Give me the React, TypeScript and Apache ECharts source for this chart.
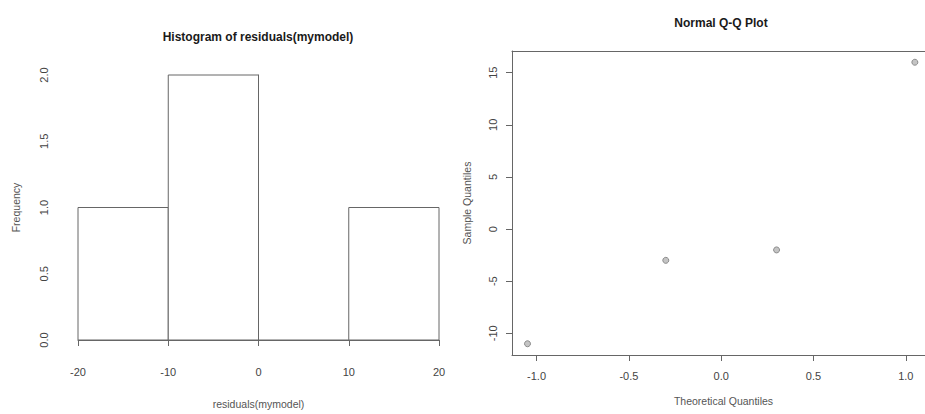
import React, { useEffect, useRef } from "react";
import * as echarts from "echarts";

// Histogram of residuals
const residualBreaks = [-20, -10, 0, 10, 20];
const histCounts = [1, 2, 0, 1];
const histXTicks = [-20, -10, 0, 10, 20];
const histYTicks = [0, 0.5, 1, 1.5, 2];

// Normal Q-Q plot
const theoreticalQuantiles = [-1.049, -0.3, 0.3, 1.049];
const sampleQuantiles = [-11, -3, -2, 16];
const qqXTicks = [-1, -0.5, 0, 0.5, 1];
const qqYTicks = [-10, -5, 0, 5, 10, 15];

const FONT = "'Liberation Sans', Arial, sans-serif";
const LINE = "#666";
const LABEL = "#444";

export default function App() {
  const ref = useRef<HTMLDivElement>(null);
  useEffect(() => {
    if (!ref.current) return;
    const chart = echarts.init(ref.current, null, { renderer: "svg" });

    const histData = histCounts.map((c, i) => [residualBreaks[i], residualBreaks[i + 1], c]);
    const qqData = theoreticalQuantiles.map((t, i) => [t, sampleQuantiles[i]]);

    const qqMin = -1.133;
    const qqMax = 1.104; // plot region continues past the right edge of the picture

    const option: any = {
      animation: false,
      backgroundColor: "#fff",
      textStyle: { fontFamily: FONT },
      graphic: [
        {
          type: "text",
          x: 258,
          y: 37,
          style: {
            text: "Histogram of residuals(mymodel)",
            fontFamily: FONT,
            fontWeight: "bold",
            fontSize: 12,
            fill: "#1a1a1a",
            align: "center",
            verticalAlign: "middle",
          },
        },
        {
          type: "text",
          x: 721,
          y: 23,
          style: {
            text: "Normal Q-Q Plot",
            fontFamily: FONT,
            fontWeight: "bold",
            fontSize: 12,
            fill: "#1a1a1a",
            align: "center",
            verticalAlign: "middle",
          },
        },
      ],
      grid: [
        { left: 78, top: 75, width: 361, height: 272, show: false },
        { left: 512, top: 51, width: 413, height: 304, show: false },
      ],
      xAxis: [
        {
          gridIndex: 0,
          type: "value",
          min: histXTicks[0],
          max: histXTicks[histXTicks.length - 1],
          interval: 10,
          offset: 14,
          axisLine: { show: true, lineStyle: { color: LINE } },
          axisTick: { show: true, length: 6, lineStyle: { color: LINE } },
          splitLine: { show: false },
          axisLabel: { color: LABEL, fontSize: 11, fontFamily: FONT, margin: 12, formatter: (v: number) => String(v) },
          name: "residuals(mymodel)",
          nameLocation: "middle",
          nameGap: 44,
          nameTextStyle: { color: "#555", fontSize: 10.5, fontFamily: FONT },
        },
        {
          gridIndex: 1,
          type: "value",
          min: qqMin,
          max: qqMax,
          axisLine: { show: true, onZero: false, lineStyle: { color: LINE } },
          axisTick: { show: true, length: 6, lineStyle: { color: LINE }, customValues: qqXTicks },
          splitLine: { show: false },
          axisLabel: {
            color: LABEL,
            fontSize: 11,
            fontFamily: FONT,
            margin: 15,
            customValues: qqXTicks,
            formatter: (v: number) => v.toFixed(1),
          },
          name: "Theoretical Quantiles",
          nameLocation: "middle",
          nameGap: 40,
          nameTextStyle: { color: "#555", fontSize: 10.5, fontFamily: FONT, padding: [0, 0, 0, 10] },
        },
        {
          gridIndex: 1,
          type: "value",
          position: "top",
          min: qqMin,
          max: qqMax,
          axisLine: { show: true, onZero: false, lineStyle: { color: LINE } },
          axisTick: { show: false },
          axisLabel: { show: false },
          splitLine: { show: false },
        },
      ],
      yAxis: [
        {
          gridIndex: 0,
          type: "value",
          min: histYTicks[0],
          max: histYTicks[histYTicks.length - 1],
          interval: 0.5,
          offset: 15,
          axisLine: { show: true, lineStyle: { color: LINE } },
          axisTick: { show: true, length: 6, lineStyle: { color: LINE } },
          splitLine: { show: false },
          axisLabel: { color: LABEL, fontSize: 11, fontFamily: FONT, margin: 14, rotate: 90, formatter: (v: number) => v.toFixed(1) },
          name: "Frequency",
          nameLocation: "middle",
          nameGap: 42,
          nameTextStyle: { color: "#555", fontSize: 10.5, fontFamily: FONT },
        },
        {
          gridIndex: 1,
          type: "value",
          min: -12.08,
          max: 17.08,
          axisLine: { show: true, onZero: false, lineStyle: { color: LINE } },
          axisTick: { show: true, length: 6, lineStyle: { color: LINE }, customValues: qqYTicks },
          splitLine: { show: false },
          axisLabel: {
            color: LABEL,
            fontSize: 11,
            fontFamily: FONT,
            margin: 14,
            rotate: 90,
            customValues: qqYTicks,
            formatter: (v: number) => String(v),
          },
          name: "Sample Quantiles",
          nameLocation: "middle",
          nameGap: 40,
          nameTextStyle: { color: "#555", fontSize: 10.5, fontFamily: FONT },
        },
      ],
      series: [
        {
          type: "custom",
          xAxisIndex: 0,
          yAxisIndex: 0,
          data: histData,
          clip: false,
          renderItem: (params: any, api: any) => {
            const x0 = api.value(0);
            const x1 = api.value(1);
            const c = api.value(2);
            const p0 = api.coord([x0, 0]);
            const p1 = api.coord([x1, c]);
            if (c === 0) {
              return {
                type: "line",
                shape: { x1: p0[0], y1: p0[1], x2: p1[0], y2: p0[1] },
                style: { stroke: LINE, lineWidth: 1 },
              };
            }
            return {
              type: "rect",
              shape: { x: p0[0], y: p1[1], width: p1[0] - p0[0], height: p0[1] - p1[1] },
              style: { fill: "#fff", stroke: LINE, lineWidth: 1 },
            };
          },
        },
        {
          type: "scatter",
          xAxisIndex: 1,
          yAxisIndex: 1,
          data: qqData,
          symbol: "circle",
          symbolSize: 6,
          clip: false,
          itemStyle: { color: "#b5b5b5", borderColor: "#777", borderWidth: 1 },
        },
      ],
    };

    chart.setOption(option);
    return () => chart.dispose();
  }, []);

  return (
    <div
      ref={ref}
      style={{ position: "absolute", left: 0, top: 0, width: 925, height: 414, background: "#fff" }}
    />
  );
}
